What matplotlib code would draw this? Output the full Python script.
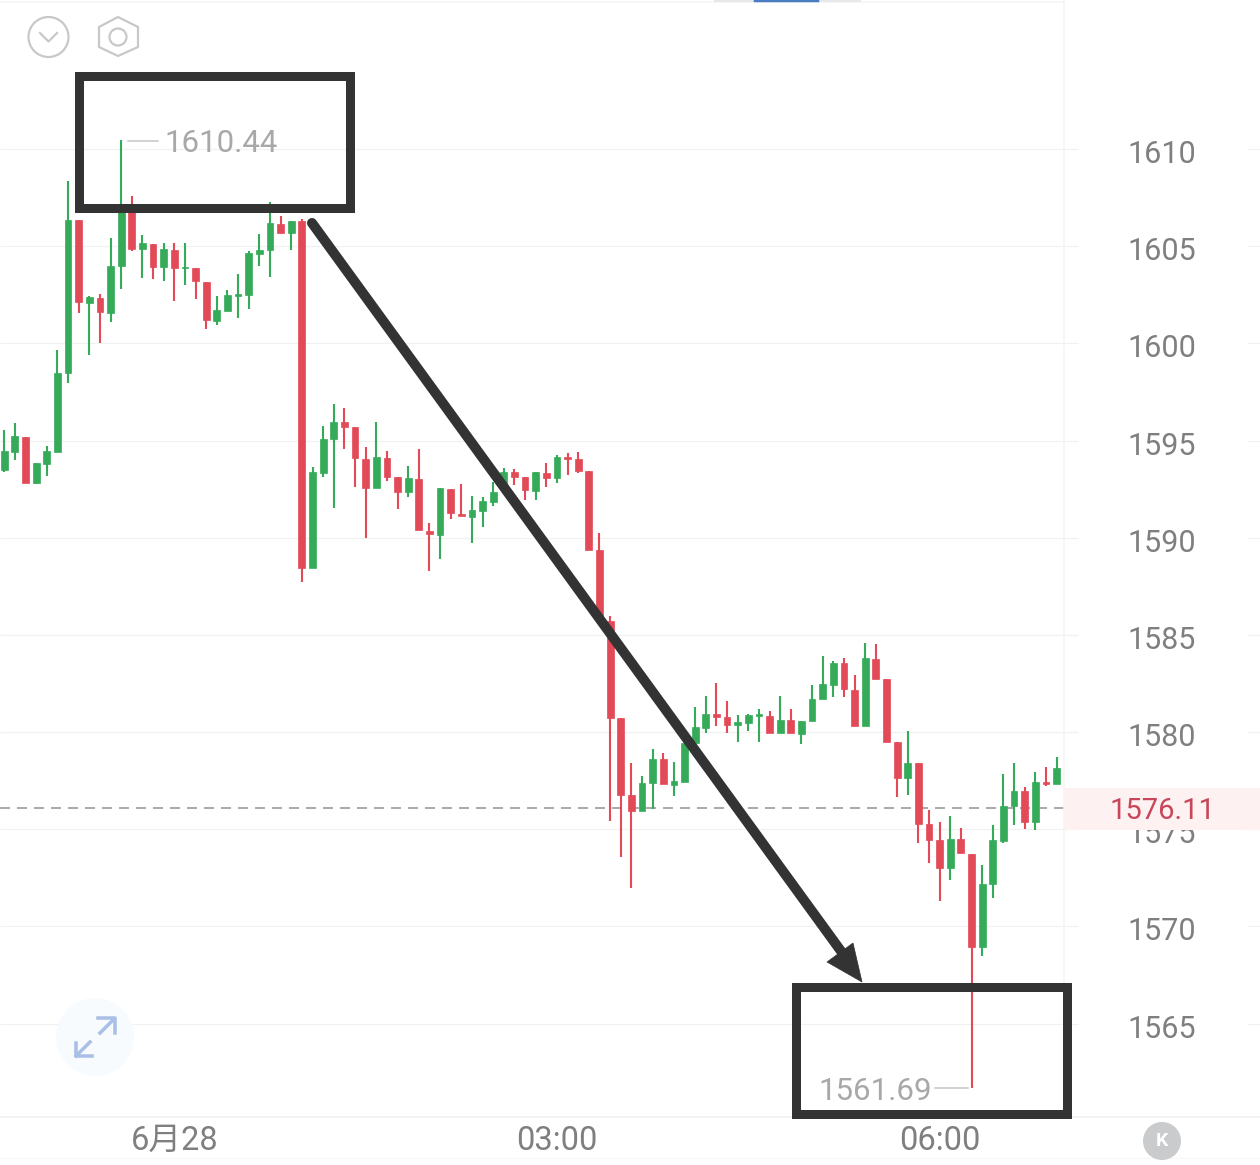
import matplotlib
matplotlib.use("Agg")
import matplotlib.pyplot as plt
from matplotlib.patches import Circle, Polygon, Rectangle
from matplotlib.transforms import ScaledTranslation

plt.rcParams["font.family"] = ["Roboto", "Noto Sans CJK SC", "DejaVu Sans"]

# 5분봉 OHLC
opens = [1593.49, 1594.41, 1595.19, 1592.82, 1593.80, 1594.41, 1598.48, 1606.35, 1602.08, 1602.34,
         1601.56, 1603.98, 1606.86, 1604.86, 1605.11, 1603.93, 1604.80, 1603.88, 1603.88, 1603.16,
         1601.15, 1601.67, 1602.44, 1602.49, 1604.60, 1604.80, 1606.14, 1605.68, 1606.30, 1588.45,
         1593.33, 1595.08, 1595.96, 1595.70, 1594.05, 1592.56, 1594.10, 1593.13, 1592.36, 1593.02,
         1590.35, 1590.14, 1592.51, 1591.22, 1591.07, 1591.38, 1591.84, 1592.72, 1593.38, 1593.13,
         1592.41, 1593.33, 1593.08, 1594.16, 1594.05, 1593.44, 1589.37, 1585.72, 1580.73, 1576.77,
         1575.95, 1577.39, 1578.62, 1577.28, 1577.44, 1579.44, 1580.22, 1580.94, 1580.78, 1580.37,
         1580.47, 1580.83, 1580.83, 1579.96, 1580.63, 1579.91, 1580.58, 1581.71, 1582.43, 1583.56,
         1582.17, 1580.32, 1583.77, 1582.74, 1579.50, 1577.64, 1578.42, 1575.28, 1574.45, 1573.01,
         1574.51, 1573.73, 1568.95, 1572.19, 1574.40, 1576.20, 1576.97, 1575.38, 1577.44, 1577.33,
         1578.16]
highs = [1595.55, 1595.91, 1595.19, 1593.85, 1594.72, 1599.66, 1608.35, 1606.35, 1602.44, 1602.54,
         1605.42, 1610.44, 1607.58, 1605.58, 1605.11, 1605.16, 1605.16, 1605.16, 1603.88, 1603.16,
         1602.44, 1602.75, 1603.57, 1604.75, 1605.63, 1607.27, 1606.55, 1606.30, 1606.40, 1593.64,
         1595.75, 1596.88, 1596.68, 1595.70, 1594.67, 1595.96, 1594.47, 1593.13, 1593.69, 1594.57,
         1590.76, 1592.56, 1592.51, 1592.77, 1592.15, 1592.10, 1592.87, 1593.59, 1593.54, 1593.13,
         1593.38, 1593.85, 1594.26, 1594.36, 1594.41, 1593.44, 1590.25, 1585.98, 1580.73, 1578.42,
         1577.75, 1579.14, 1578.93, 1578.47, 1579.44, 1581.30, 1581.86, 1582.53, 1581.60, 1580.88,
         1580.94, 1581.19, 1581.09, 1581.86, 1581.19, 1580.58, 1582.43, 1583.92, 1583.66, 1583.82,
         1582.94, 1584.59, 1584.54, 1582.74, 1579.50, 1580.06, 1578.42, 1576.00, 1575.38, 1575.69,
         1575.07, 1573.73, 1573.17, 1575.23, 1577.85, 1578.42, 1577.18, 1577.95, 1578.21, 1578.72,
         1578.98]
lows = [1593.38, 1594.00, 1592.82, 1592.77, 1593.18, 1594.41, 1597.96, 1601.56, 1599.40, 1600.02,
        1601.10, 1602.80, 1604.75, 1603.36, 1603.31, 1603.21, 1602.18, 1603.00, 1602.28, 1600.74,
        1600.95, 1601.67, 1601.31, 1601.77, 1603.98, 1603.42, 1605.68, 1604.80, 1587.73, 1588.45,
        1593.13, 1591.53, 1594.57, 1592.61, 1589.99, 1592.56, 1592.92, 1591.48, 1592.10, 1590.40,
        1588.29, 1588.91, 1590.97, 1591.12, 1589.73, 1590.56, 1591.64, 1592.56, 1592.72, 1591.94,
        1591.94, 1592.61, 1592.82, 1593.23, 1593.33, 1589.37, 1585.77, 1575.43, 1573.58, 1571.99,
        1575.95, 1576.05, 1577.33, 1576.72, 1577.44, 1579.34, 1579.96, 1580.32, 1579.96, 1579.50,
        1580.06, 1579.50, 1579.96, 1579.96, 1579.96, 1579.39, 1580.58, 1581.71, 1581.81, 1581.81,
        1580.32, 1580.32, 1582.74, 1579.50, 1576.67, 1576.77, 1574.30, 1573.27, 1571.32, 1572.40,
        1573.79, 1561.69, 1568.49, 1571.47, 1574.30, 1575.23, 1575.02, 1574.97, 1577.23, 1577.33,
        1578.16]
closes = [1594.47, 1595.24, 1592.82, 1593.85, 1594.47, 1598.48, 1606.35, 1602.13, 1602.39, 1601.62,
          1603.98, 1606.86, 1604.86, 1605.16, 1603.93, 1604.86, 1603.88, 1603.93, 1603.21, 1601.20,
          1601.72, 1602.49, 1602.54, 1604.65, 1604.80, 1606.19, 1605.68, 1606.30, 1588.45, 1593.38,
          1595.08, 1595.96, 1595.70, 1594.10, 1592.56, 1594.16, 1593.13, 1592.36, 1593.08, 1590.40,
          1590.20, 1592.56, 1591.28, 1591.12, 1591.43, 1591.89, 1592.36, 1593.38, 1593.13, 1592.46,
          1593.38, 1593.08, 1594.16, 1594.05, 1593.44, 1589.37, 1585.77, 1580.73, 1576.77, 1575.95,
          1577.39, 1578.62, 1577.33, 1577.49, 1579.44, 1580.27, 1580.94, 1580.78, 1580.37, 1580.52,
          1580.88, 1580.94, 1579.96, 1580.63, 1579.96, 1580.58, 1581.71, 1582.48, 1583.56, 1582.22,
          1580.32, 1583.82, 1582.74, 1579.50, 1577.64, 1578.42, 1575.28, 1574.45, 1573.01, 1574.51,
          1573.79, 1568.95, 1572.19, 1574.45, 1576.20, 1576.97, 1575.38, 1577.44, 1577.33, 1578.16,
          1578.98]

y_ticks = [1565, 1570, 1575, 1580, 1585, 1590, 1595, 1600, 1605, 1610]
x_tick_pos = [16, 52, 88]
x_tick_labels = ["6月28", "03:00", "06:00"]
last_price = 1576.11
max_price = 1610.44
min_price = 1561.69

GREEN = "#35AB5A"
RED = "#E24A58"
GREY = "#7f7f7f"
LIGHT = "#f1f1f1"
DARK = "#333333"
W, H = 1260, 1165
PX = 72 / 100  # 1px -> pt

fig = plt.figure(figsize=(W / 100, H / 100), dpi=100, facecolor="white")

# 캔들 영역
ax = fig.add_axes([0, 48 / H, 1064 / W, 1117 / H])
ax.set_xlim(-0.4, 99.7)
ax.set_ylim(1560.20, 1617.66)
for s in ax.spines.values():
    s.set_visible(False)

xs = list(range(len(opens)))
colors = [GREEN if c >= o else RED for o, c in zip(opens, closes)]
ax.hlines(y_ticks, 0, 1078 / 1064, transform=ax.get_yaxis_transform(),
          color=LIGHT, lw=1.2 * PX, clip_on=False, zorder=1)
ax.hlines(y_ticks, 1247 / 1064, W / 1064, transform=ax.get_yaxis_transform(),
          color=LIGHT, lw=1.2 * PX, clip_on=False, zorder=1)
ax.axhline(last_price, color="#ababab", lw=2 * PX, dashes=(5, 3.5), zorder=1)
ax.vlines(xs, lows, highs, color=colors, lw=2.1 * PX, zorder=2)
ax.bar(xs, [abs(c - o) for o, c in zip(opens, closes)],
       bottom=[min(o, c) for o, c in zip(opens, closes)],
       width=0.64, color=colors, edgecolor=colors, linewidth=0.5, zorder=3)

ax.yaxis.tick_right()
ax.set_yticks(y_ticks)
ax.set_yticklabels([str(v) for v in y_ticks], fontsize=22, color=GREY)
ax.tick_params(axis="y", length=0, pad=46)
ax.set_xticks(x_tick_pos)
ax.set_xticklabels(x_tick_labels, fontsize=23.5, color=GREY)
ax.tick_params(axis="x", length=0, pad=6)
# 라벨이 격자선보다 살짝 아래에 있음
down = ScaledTranslation(0, -2.5 / 100, fig.dpi_scale_trans)
for lab in ax.get_yticklabels():
    lab.set_transform(lab.get_transform() + down)

# 픽셀 좌표 오버레이 (주석, 아이콘)
ov = fig.add_axes([0, 0, 1, 1], facecolor="none")
ov.set_xlim(0, W)
ov.set_ylim(H, 0)
ov.axis("off")

ov.plot([0, W], [1117, 1117], color="#eeeeee", lw=1.5 * PX, zorder=1)
ov.plot([0, W], [1158, 1158], color="#f6f6f6", lw=1.2 * PX, zorder=1)
ov.plot([0, 1064], [2, 2], color="#f5f5f5", lw=1.5 * PX, zorder=1)
ov.plot([1064, 1064], [0, 1117], color="#f4f4f4", lw=1.5 * PX, zorder=1)
ov.plot([715, 860], [0.5, 0.5], color="#e6e8ea", lw=2 * PX, zorder=1)
ov.plot([755, 818], [0.5, 0.5], color="#4a7cc4", lw=2.5 * PX, zorder=1.1)

# 현재가 라벨
ov.add_patch(Rectangle((1064, 788), 196, 42, facecolor="#fdf1f1", edgecolor="none", zorder=2))
ov.text(1162, 811, f"{last_price:.2f}", color="#c9465a", fontsize=21, ha="center", va="center", zorder=3)

# 최고/최저 라벨
ov.plot([128, 158], [141, 141], color="#c4c4c4", lw=1.5 * PX, zorder=3)
ov.text(164, 144, f"{max_price:.2f}", color="#a8a8a8", fontsize=22.5, ha="left", va="center", zorder=3)
ov.plot([935, 968], [1088, 1088], color="#c4c4c4", lw=1.5 * PX, zorder=3)
ov.text(818, 1091, f"{min_price:.2f}", color="#a8a8a8", fontsize=22.5, ha="left", va="center", zorder=3)

# 손으로 그린 박스와 화살표
ov.add_patch(Rectangle((79, 76), 270.5, 131.5, fill=False, edgecolor=DARK, lw=9 * PX, joinstyle="miter", zorder=5))
ov.add_patch(Rectangle((795.5, 986.5), 271, 127.5, fill=False, edgecolor=DARK, lw=9 * PX, joinstyle="miter", zorder=5))
ov.plot([312, 846], [223, 958], color=DARK, lw=10 * PX, solid_capstyle="round", zorder=5)
ov.add_patch(Polygon([(862, 982), (827, 962), (853, 943)], closed=True, facecolor=DARK, edgecolor=DARK, lw=0.5, zorder=5))

# 상단 아이콘
ICON = "#c8c8c8"
ov.add_patch(Circle((48.5, 37), 20, fill=False, edgecolor=ICON, lw=2.2 * PX, zorder=3))
ov.plot([40, 48.5, 57], [33, 41.5, 33], color=ICON, lw=2.2 * PX, zorder=3)
ov.add_patch(Polygon([(118, 17), (138, 27), (138, 47), (118, 56), (99, 47), (99, 27)],
                     closed=True, fill=False, edgecolor=ICON, lw=2.2 * PX, zorder=3))
ov.add_patch(Circle((118, 37), 8.5, fill=False, edgecolor=ICON, lw=2.2 * PX, zorder=3))

# 확대 버튼
ov.add_patch(Circle((95, 1037), 39, facecolor="#f8fbfe", edgecolor="none", zorder=0.5))
ARROW = "#a9bfe6"
ov.plot([100, 114], [1033, 1019], color=ARROW, lw=3.5 * PX, zorder=3)
ov.plot([98, 115, 115], [1018, 1018, 1033], color=ARROW, lw=3.5 * PX, zorder=3)
ov.plot([76, 90], [1056, 1042], color=ARROW, lw=3.5 * PX, zorder=3)
ov.plot([76, 76, 92], [1043, 1056, 1056], color=ARROW, lw=3.5 * PX, zorder=3)

# K 버튼
ov.add_patch(Circle((1162, 1141), 19, facecolor="#c9cbcd", edgecolor="none", zorder=3))
ov.text(1162, 1141, "K", color="white", fontsize=14, fontweight="bold", ha="center", va="center", zorder=4)

fig.savefig("out.png", dpi=100)
